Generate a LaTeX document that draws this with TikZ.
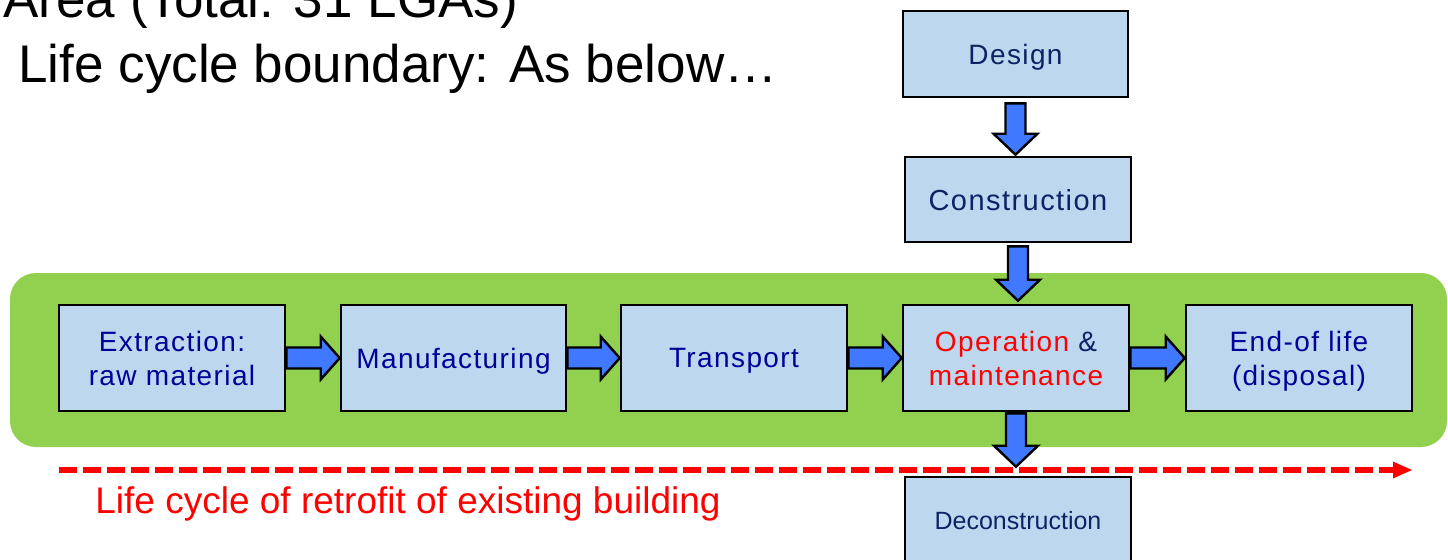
\documentclass[tikz,border=0pt]{standalone}
\usepackage{fontspec}
\setmainfont{Liberation Sans}
\newfontfamily\boxfont[LetterSpace=5]{Liberation Sans}
\usetikzlibrary{arrows.meta,calc}
\definecolor{boxblue}{RGB}{189,215,238}
\definecolor{leafgreen}{RGB}{146,208,80}
\definecolor{arrowblue}{RGB}{64,121,255}
\definecolor{navy}{RGB}{0,0,153}
\definecolor{darknavy}{RGB}{12,36,102}
\tikzset{
  stagebox/.style={draw=black, line width=1.3pt, fill=boxblue, inner sep=0pt,
    align=center, text=navy, text depth=0pt, font=\boxfont\fontsize{14pt}{17pt}\selectfont},
  rowbox/.style={stagebox, minimum width=113pt, minimum height=53pt},
  barrow/.style={draw=black, line width=1.2pt, fill=arrowblue, line join=miter},
  plain/.style={inner sep=0pt, anchor=base west},
}
\newcommand\harrowbetween[2]{%
  \draw[barrow] let \p1=(#1.east), \p2=(#2.west) in
    (\x1,\y1+5.25pt) -- (\x2-9.5pt,\y1+5.25pt) -- (\x2-9.5pt,\y1+10.75pt) -- (\x2,\y1)
    -- (\x2-9.5pt,\y1-10.75pt) -- (\x2-9.5pt,\y1-5.25pt) -- (\x1,\y1-5.25pt) -- cycle;}
% #1 start node, #2 end node, #3 gap at start, #4 gap at end
\newcommand\varrowbetween[4]{%
  \draw[barrow] let \p1=(#1.south), \p2=(#2.north) in
    (\x1-5pt,\y1-#3) -- (\x1-5pt,\y2+#4+10.5pt) -- (\x1-11pt,\y2+#4+10.5pt) -- (\x1,\y2+#4)
    -- (\x1+11pt,\y2+#4+10.5pt) -- (\x1+5pt,\y2+#4+10.5pt) -- (\x1+5pt,\y1-#3) -- cycle;}
\begin{document}
\begin{tikzpicture}[x=0.5pt,y=-0.5pt]
\useasboundingbox (0,0) rectangle (1448,559);
\clip (0,0) rectangle (1448,559);
% green band
\fill[leafgreen, rounded corners=13pt] (10,273) rectangle (1447,447);
% title text
\node[plain, font=\fontsize{26.5pt}{30pt}\selectfont] (t1) at (3,17) {Area (Total: 31 LGAs)};
\node[plain, font=\fontsize{26.5pt}{30pt}\selectfont] (t2) at (18,82) {Life cycle boundary: As below…};
% main row
\node[rowbox] (ext) at (172,358) {Extraction:\\raw material};
\node[rowbox, minimum width=112.5pt] (man) at (453.5,358) {Manufacturing};
\node[rowbox] (tra) at (734,358) {Transport};
\node[rowbox] (ope) at (1016,358) {\textcolor{red}{Operation} \textcolor{darknavy}{\&}\\\textcolor{red}{maintenance}};
\node[rowbox] (end) at (1299,358) {End-of life\\(disposal)};
% vertical column
\node[stagebox, text=darknavy, minimum width=112.5pt, minimum height=43pt] (des) at (1015.5,54) {Design};
\node[stagebox, text=darknavy, minimum width=113pt, minimum height=42.5pt,
      font=\boxfont\fontsize{14.5pt}{17pt}\selectfont] (con) at (1018,199.5) {Construction};
\node[stagebox, text=darknavy, minimum width=113pt, minimum height=43pt,
      font=\fontsize{12.5pt}{15pt}\selectfont] (dec) at (1018,520) {Deconstruction};
% block arrows
\harrowbetween{ext}{man}
\harrowbetween{man}{tra}
\harrowbetween{tra}{ope}
\harrowbetween{ope}{end}
\varrowbetween{des}{con}{2.5pt}{0.5pt}
\varrowbetween{con}{ope}{1.5pt}{1.5pt}
\varrowbetween{ope}{dec}{0.5pt}{4.5pt}
% dashed retrofit arrow
\coordinate (ds) at (59,470);
\coordinate (de) at (1412,470);
\draw[red, line width=3.25pt, dash pattern=on 9pt off 3pt,
      -{Triangle[length=9.5pt,width=8.5pt,line width=0pt]}] (ds) -- (de);
\node[plain, text=red, font=\fontsize{18.5pt}{22pt}\selectfont] (rt) at (95,513) {Life cycle of retrofit of existing building};
\end{tikzpicture}
\end{document}
